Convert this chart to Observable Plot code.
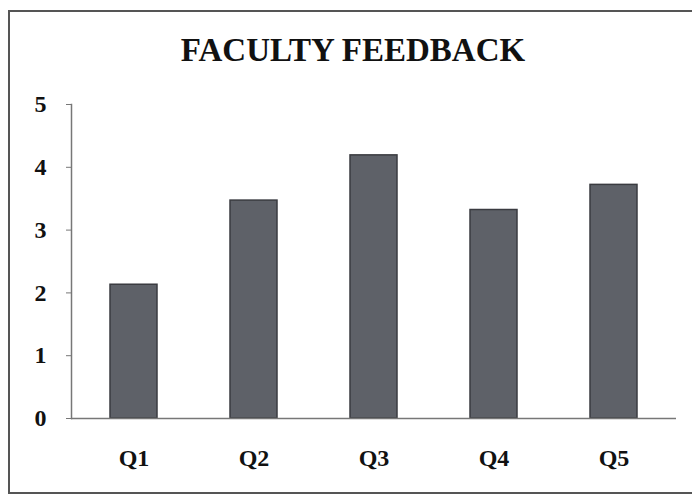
<!DOCTYPE html>
<html>
<head>
<meta charset="utf-8">
<script src="https://cdn.jsdelivr.net/npm/d3@7"></script>
<script src="https://cdn.jsdelivr.net/npm/@observablehq/plot@0.6"></script>
<style>
  html, body { margin: 0; padding: 0; background: #fff; }
  #wrap { position: relative; width: 692px; height: 497px; overflow: hidden; background: #fff; }
  #box { position: absolute; left: 8px; top: 10px; width: 720px; height: 484px; border: 2px solid #555; box-sizing: border-box; pointer-events: none; }
  #title { position: relative; height: 80px; width: 692px; text-align: center; font-family: "Liberation Serif", "Times New Roman", serif; font-weight: bold; font-size: 33px; line-height: 100px; color: #111; padding-left: 14px; box-sizing: border-box; }
  #chart { position: relative; }
</style>
</head>
<body>
<div id="wrap">
  <div id="box"></div>
  <div id="title">FACULTY FEEDBACK</div>
  <div id="chart"></div>
</div>
<script>
const questions = ["Q1", "Q2", "Q3", "Q4", "Q5"];
const scores = [2.13, 3.47, 4.19, 3.32, 3.72];
const yTicks = [0, 1, 2, 3, 4, 5];

const data = questions.map((q, i) => ({q, v: scores[i]}));

const chart = Plot.plot({
  width: 692,
  height: 417,
  marginTop: 24,
  marginBottom: 79,
  marginLeft: 71,
  marginRight: 16,
  style: {fontFamily: "'Liberation Serif', 'Times New Roman', serif", fontWeight: "bold", fontSize: "24px", color: "#111", background: "transparent"},
  x: {domain: questions, range: [73, 673], paddingInner: 0.61, paddingOuter: 0.305, label: null},
  y: {domain: [0, 5], label: null},
  marks: [
    Plot.barY(data, {x: "q", y: "v", fill: "#5e6168", stroke: "#3a3b40", strokeWidth: 1.5}),
    Plot.axisY({ticks: yTicks, tickFormat: d => String(d), tickSize: 5, tickPadding: 20, stroke: "#777", label: null, fontSize: 24, fontWeight: "bold"}),
    Plot.axisX({tickSize: 0, tickPadding: 30, label: null, fontSize: 24, fontWeight: "bold"}),
    Plot.frame({anchor: "left", stroke: "#777", strokeWidth: 1.5}),
    Plot.ruleY([0], {stroke: "#777", strokeWidth: 1.5})
  ]
});
document.getElementById("chart").appendChild(chart);
</script>
</body>
</html>
